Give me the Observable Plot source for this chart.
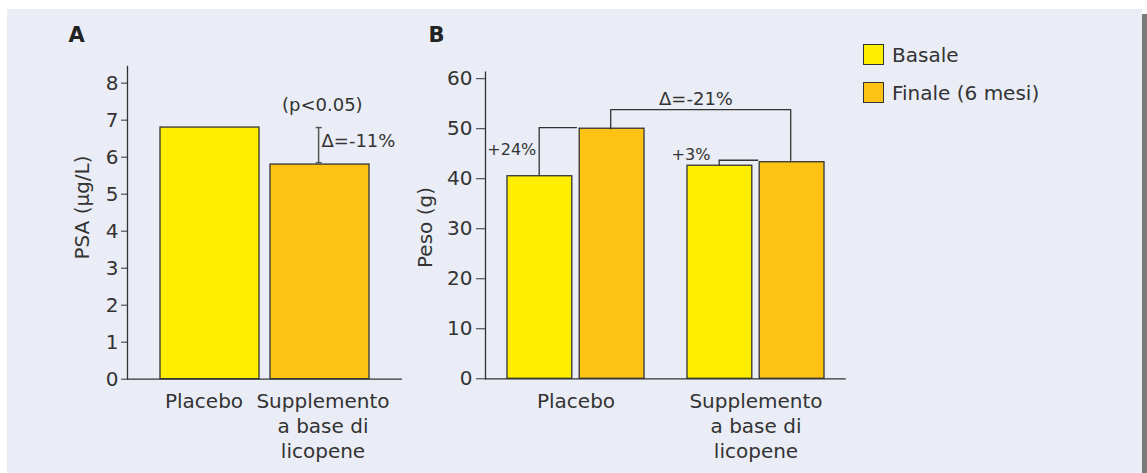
<!DOCTYPE html>
<html><head><meta charset="utf-8">
<script src="https://cdn.jsdelivr.net/npm/d3@7"></script>
<script src="https://cdn.jsdelivr.net/npm/@observablehq/plot@0.6"></script>
<style>
html,body{margin:0;padding:0;background:#fff;}
#root{position:relative;width:1147px;height:473px;overflow:hidden;font-family:"DejaVu Sans",Verdana,sans-serif;color:#333;}
#panel{position:absolute;left:7px;top:9px;width:1135px;height:464px;background:#eaedf5;}
#edge{position:absolute;left:1142px;top:14px;width:5px;height:459px;background:#7a7a7a;}
#chartA,#chartB{position:absolute;top:0;}
#chartA{left:0;}
#chartB{left:420px;}
.sw{position:absolute;left:863px;width:21px;height:21px;box-sizing:border-box;border:1px solid #333;}
.lt{position:absolute;left:892px;font-size:20px;line-height:24px;height:24px;white-space:nowrap;}
</style></head>
<body>
<div id="root"><div id="panel"></div><div id="edge"></div><div id="chartA"></div><div id="chartB"></div><div id="legend"></div></div>
<script>
// ---------- data ----------
const seriesNames = ["Basale", "Finale (6 mesi)"];

const psaCategories = ["Placebo", "Supplemento a base di licopene"];
const psaLabels = ["Placebo", "Supplemento\na base di\nlicopene"];
const psaValues = [6.8, 5.8];
const psaTicks = [0, 1, 2, 3, 4, 5, 6, 7, 8];

const weightGroups = ["Placebo", "Supplemento a base di licopene"];
const weightLabels = ["Placebo", "Supplemento\na base di\nlicopene"];
const weightBasale = [40.5, 42.6];
const weightFinale = [50.0, 43.3];
const weightTicks = [0, 10, 20, 30, 40, 50, 60];

// ---------- style ----------
const FONT = "DejaVu Sans, Verdana, sans-serif";
const INK = "#333";
const YELLOW = "#ffee00";
const ORANGE = "#fdc213";

const psaData = psaCategories.map((c, i) => ({cat: c, value: psaValues[i]}));
const psaLabelOf = Object.fromEntries(psaCategories.map((c, i) => [c, psaLabels[i]]));
const weightLabelOf = Object.fromEntries(weightGroups.map((c, i) => [c, weightLabels[i]]));
const basaleData = weightGroups.map((g, i) => ({g, s: seriesNames[0], v: weightBasale[i]}));
const finaleData = weightGroups.map((g, i) => ({g, s: seriesNames[1], v: weightFinale[i]}));

const plac = psaCategories[0];
const supp = psaCategories[1];

const catLabel = (cat, dx) => Plot.text([cat], {
  x: d => d, y: () => 0, text: d => psaLabelOf[d], lineAnchor: "top",
  dy: 11, dx, fontSize: 20, lineHeight: 1.25
});

const chartA = Plot.plot({
  width: 420, height: 473,
  marginTop: 66, marginBottom: 94.3, marginLeft: 127, marginRight: 18,
  style: {background: "transparent", fontFamily: FONT, color: INK, overflow: "visible"},
  x: {domain: psaCategories, paddingInner: 0.1, paddingOuter: 0.3, axis: null},
  y: {domain: [0, 8.45]},
  color: {domain: psaCategories, range: [YELLOW, ORANGE]},
  marks: [
    Plot.barY(psaData, {x: "cat", y: "value", fill: "cat", stroke: INK, strokeWidth: 1.3}),
    Plot.ruleY([0], {stroke: INK, strokeWidth: 1.3}),
    Plot.frame({anchor: "left", stroke: INK, strokeWidth: 1.3}),
    Plot.axisY({ticks: psaTicks, tickSize: 6, tickPadding: 3, fontSize: 20, label: null}),
    catLabel(plac, -6),
    catLabel(supp, 3),
    // error bar
    Plot.ruleX([{x: supp, y1: psaValues[1] + 0.05, y2: psaValues[0]}], {x: "x", y1: "y1", y2: "y2", dx: -1.4, stroke: "#555", strokeWidth: 1.5}),
    Plot.tickY([psaValues[1] + 0.05, psaValues[0]], {x: () => supp, y: d => d, insetLeft: 45.7, insetRight: 47.3, stroke: "#555", strokeWidth: 1.5}),
    Plot.text(["(p<0.05)"], {x: () => supp, y: () => 7.4, dx: 2.3, fontSize: 18}),
    Plot.text(["\u0394=-11%"], {x: () => supp, y: () => 6.43, dx: 1.5, textAnchor: "start", fontSize: 18}),
    Plot.text(["PSA (\u03bcg/L)"], {frameAnchor: "top-left", textAnchor: "middle", lineAnchor: "middle", dx: -45.3, dy: 141, rotate: -90, fontSize: 20}),
    Plot.text(["A"], {frameAnchor: "top-left", textAnchor: "start", lineAnchor: "middle", dx: -59, dy: -31, fontWeight: "bold", fontSize: 21, fill: "#222"})
  ]
});
document.getElementById("chartA").appendChild(chartA);

const suppW = weightGroups[1];
const placW = weightGroups[0];

const chartB = Plot.plot({
  width: 440, height: 473,
  marginTop: 71.7, marginBottom: 94.7, marginLeft: 65, marginRight: 14.3,
  style: {background: "transparent", fontFamily: FONT, color: INK, overflow: "visible"},
  x: {domain: weightGroups, paddingInner: 0.239, paddingOuter: 0.12},
  y: {domain: [0, 61.3]},
  color: {domain: seriesNames, range: [YELLOW, ORANGE]},
  marks: [
    Plot.barY(basaleData, {x: "g", y: "v", fill: "s", stroke: INK, strokeWidth: 1.3, insetRight: 72.2}),
    Plot.barY(finaleData, {x: "g", y: "v", fill: "s", stroke: INK, strokeWidth: 1.3, insetLeft: 72.2}),
    Plot.ruleY([0], {stroke: INK, strokeWidth: 1.3}),
    Plot.frame({anchor: "left", stroke: INK, strokeWidth: 1.3}),
    Plot.axisY({ticks: weightTicks, tickSize: 9, tickPadding: 4, fontSize: 20, label: null}),
    Plot.axisX({tickSize: 0, tickPadding: 11.5, fontSize: 20, lineHeight: 1.25, tickFormat: d => weightLabelOf[d], label: null}),
    // +24% bracket
    Plot.ruleX([{x: placW, y1: weightBasale[0], y2: 50.2}], {x: "x", y1: "y1", y2: "y2", dx: -36.8, stroke: INK, strokeWidth: 1.3}),
    Plot.ruleY([{x: placW, y: 50.2}], {x1: "x", x2: "x", y: "y", insetLeft: 31.8, insetRight: 67.1, stroke: INK, strokeWidth: 1.3}),
    // +3% bracket
    Plot.ruleX([{x: suppW, y1: weightBasale[1], y2: 43.7}], {x: "x", y1: "y1", y2: "y2", dx: -36.8, stroke: INK, strokeWidth: 1.3}),
    Plot.ruleY([{x: suppW, y: 43.7}], {x1: "x", x2: "x", y: "y", insetLeft: 31.8, insetRight: 65.8, stroke: INK, strokeWidth: 1.3}),
    // delta bracket
    Plot.line([{x: placW, y: weightFinale[0]}, {x: placW, y: 53.8}, {x: suppW, y: 53.8}, {x: suppW, y: 43.7}],
      {x: "x", y: "y", dx: 34.7, stroke: INK, strokeWidth: 1.3}),
    Plot.text(["+24%"], {x: () => placW, y: () => 45.7, dx: -64.2, fontSize: 16}),
    Plot.text(["+3%"], {x: () => suppW, y: () => 44.7, dx: -65, fontSize: 16}),
    Plot.text(["\u0394=-21%"], {x: () => suppW, y: () => 55.9, dx: -60, fontSize: 18}),
    Plot.text(["Peso (g)"], {frameAnchor: "top-left", textAnchor: "middle", lineAnchor: "middle", dx: -60, dy: 155.3, rotate: -90, fontSize: 20}),
    Plot.text(["B"], {frameAnchor: "top-left", textAnchor: "start", lineAnchor: "middle", dx: -57, dy: -36.7, fontWeight: "bold", fontSize: 21, fill: "#222"})
  ]
});
document.getElementById("chartB").appendChild(chartB);

// legend
const legend = document.getElementById("legend");
const legendColors = [YELLOW, ORANGE];
const swTops = [44.3, 82.3];
seriesNames.forEach((name, i) => {
  const sw = document.createElement("div");
  sw.className = "sw";
  sw.style.top = swTops[i] + "px";
  sw.style.background = legendColors[i];
  legend.appendChild(sw);
  const t = document.createElement("div");
  t.className = "lt";
  t.style.top = (swTops[i] + 10.5 - 12 + 0.5) + "px";
  t.textContent = name;
  legend.appendChild(t);
});
</script>
</body></html>
